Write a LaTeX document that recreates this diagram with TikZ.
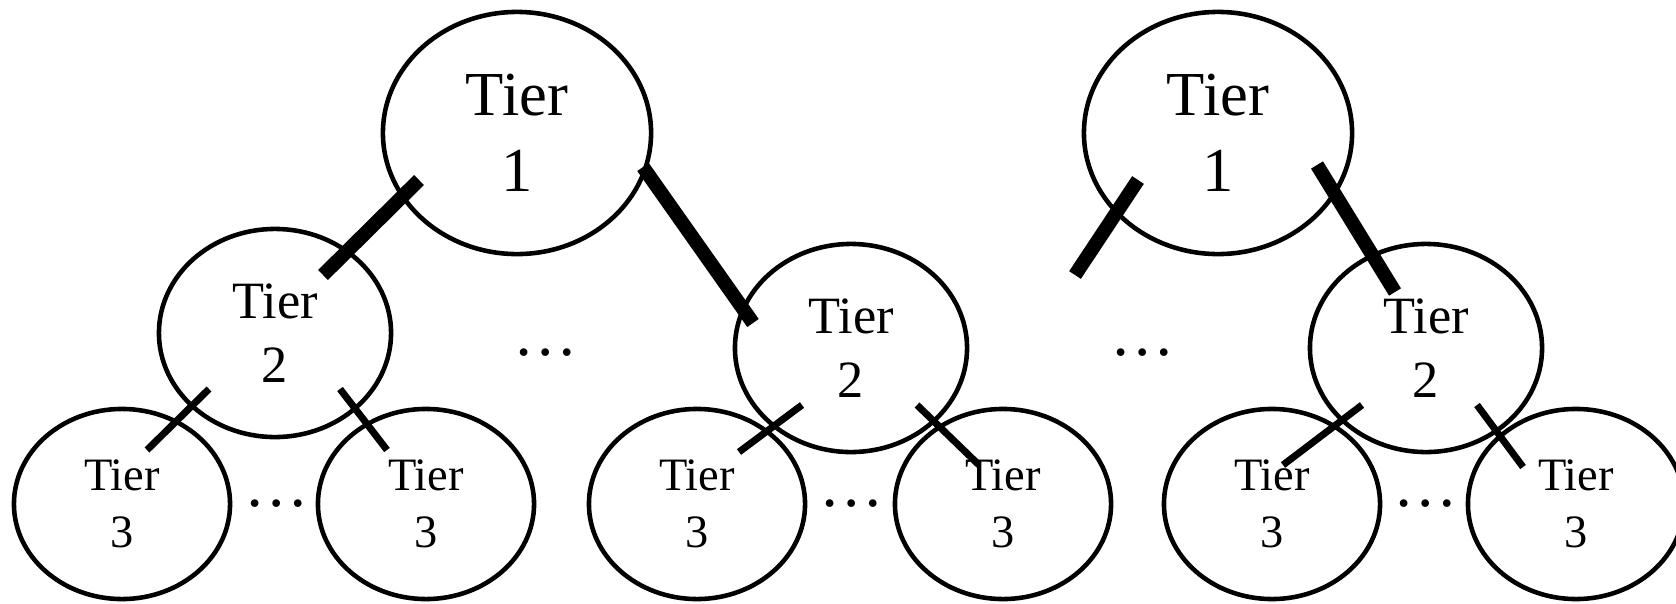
\documentclass[tikz,border=0pt]{standalone}
\usepackage{fontspec}
\setmainfont{Liberation Serif}
\usetikzlibrary{shapes.geometric,calc}

\begin{document}
\begin{tikzpicture}[
  x=0.01cm, y=-0.01cm,
  every node/.style={ellipse, draw, line width=1.3pt, inner sep=0pt, outer sep=0pt, align=center},
  tier1/.style={minimum width=2.68cm, minimum height=2.42cm, font=\fontsize{17.8}{21.7}\selectfont},
  tier2/.style={minimum width=2.32cm, minimum height=2.08cm, font=\fontsize{14.9}{18.2}\selectfont},
  tier3/.style={minimum width=2.16cm, minimum height=1.90cm, font=\fontsize{13.2}{16.1}\selectfont},
  more/.style={draw=none, font=\fontsize{18.3}{22}\selectfont},
  trunk/.style={draw, line width=0.14cm},
  twig/.style={draw, line width=0.07cm}
]
\useasboundingbox (0,0) rectangle (1676,603);

% tier 1
\node[tier1] (t1a) at (517,133) {Tier\\1};
\node[tier1] (t1b) at (1218,133) {Tier\\1};

% tier 2
\node[tier2] (t2a) at (275,333) {Tier\\2};
\node[tier2] (t2b) at (851,348) {Tier\\2};
\node[tier2] (t2c) at (1426,348) {Tier\\2};

% tier 3
\node[tier3] (t3a) at (122,504) {Tier\\3};
\node[tier3] (t3b) at (426,504) {Tier\\3};
\node[tier3] (t3c) at (697,504) {Tier\\3};
\node[tier3] (t3d) at (1003,504) {Tier\\3};
\node[tier3] (t3e) at (1272,504) {Tier\\3};
\node[tier3] (t3f) at (1576,504) {Tier\\3};

% dots
\node[more] (d2a) at (546,353) {…};
\node[more] (d2b) at (1143,353) {…};
\node[more] (d3a) at (277,504) {…};
\node[more] (d3b) at (852,504) {…};
\node[more] (d3c) at (1426,504) {…};

\coordinate (t1b-end) at (1075,275);

% thick links
\draw[trunk] ($(t1a)+(-98,47)$) -- ($(t2a)+(48,-58)$);
\draw[trunk] ($(t1a)+(126,34)$) -- ($(t2b)+(-98,-25)$);
\draw[trunk] ($(t1b)+(-80,47)$) -- (t1b-end);
\draw[trunk] ($(t1b)+(99,32)$) -- ($(t2c)+(-31,-56)$);

% thin links
\draw[twig] ($(t2a)+(-66,56)$) -- ($(t3a)+(25,-54)$);
\draw[twig] ($(t2a)+(65,56)$) -- ($(t3b)+(-39,-54)$);
\draw[twig] ($(t2b)+(-49,57)$) -- ($(t3c)+(42,-52)$);
\draw[twig] ($(t2b)+(66,57)$) -- ($(t3d)+(-24,-39)$);
\draw[twig] ($(t2c)+(-64,57)$) -- ($(t3e)+(11,-39)$);
\draw[twig] ($(t2c)+(51,57)$) -- ($(t3f)+(-53,-37)$);

\end{tikzpicture}
\end{document}
